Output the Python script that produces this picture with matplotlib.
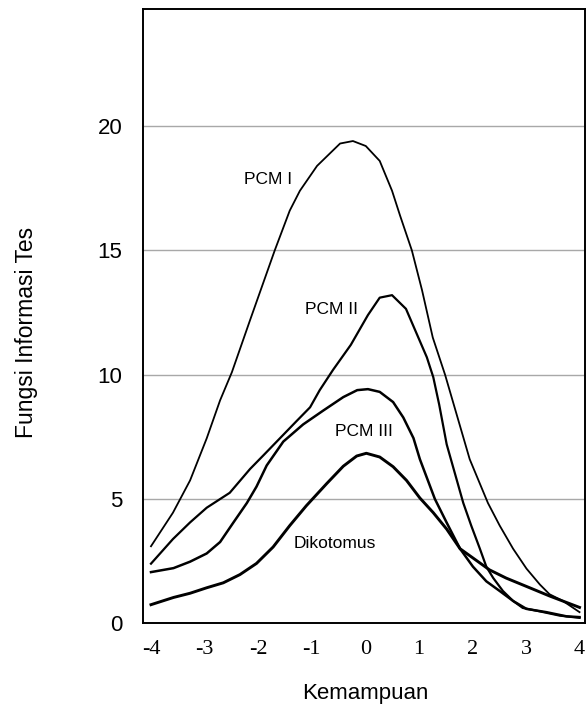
import matplotlib
matplotlib.use('Agg')
import matplotlib.pyplot as plt

# kurva fungsi informasi tes
pcm1_x = [-4.0, -3.59, -3.27, -2.96, -2.71, -2.49, -2.15, -1.69, -1.41, -1.22, -0.90, -0.47, -0.23, 0.01,
          0.27, 0.50, 0.65, 0.87, 1.06, 1.26, 1.49, 1.95, 2.29, 2.51, 2.76, 3.01, 3.26, 3.44, 3.69, 4.0]
pcm1_y = [3.1, 4.45, 5.75, 7.44, 8.97, 10.1, 12.2, 15.0, 16.6, 17.4, 18.4, 19.3, 19.4, 19.2,
          18.6, 17.4, 16.4, 15.0, 13.4, 11.5, 10.0, 6.6, 4.84, 3.93, 3.0, 2.2, 1.56, 1.17, 0.9, 0.45]

pcm2_x = [-4.0, -3.59, -3.27, -2.96, -2.53, -2.15, -1.90, -1.59, -1.28, -1.03, -0.85, -0.60, -0.27, 0.05,
          0.27, 0.50, 0.76, 0.97, 1.15, 1.27, 1.38, 1.52, 1.83, 1.98, 2.14, 2.26, 2.39, 2.57, 2.76, 2.94,
          3.26, 3.63, 4.0]
pcm2_y = [2.4, 3.39, 4.06, 4.65, 5.25, 6.21, 6.76, 7.45, 8.14, 8.69, 9.38, 10.2, 11.2, 12.4,
          13.1, 13.2, 12.65, 11.6, 10.7, 9.9, 8.8, 7.2, 4.84, 3.92, 3.0, 2.28, 1.82, 1.3, 0.9, 0.62,
          0.48, 0.31, 0.22]

pcm3_x = [-4.0, -3.58, -3.27, -2.96, -2.71, -2.46, -2.21, -2.03, -1.84, -1.53, -1.16, -0.79, -0.41, -0.15,
          0.05, 0.27, 0.52, 0.71, 0.90, 1.02, 1.30, 1.52, 1.77, 2.01, 2.26, 2.51, 2.76, 3.01, 3.38, 3.76, 4.0]
pcm3_y = [2.06, 2.22, 2.48, 2.81, 3.27, 4.06, 4.84, 5.5, 6.35, 7.31, 8.0, 8.55, 9.1, 9.38,
          9.42, 9.31, 8.9, 8.28, 7.45, 6.6, 5.0, 4.05, 3.0, 2.28, 1.69, 1.3, 0.9, 0.58, 0.45, 0.28, 0.25]

dik_x = [-4.0, -3.58, -3.27, -2.96, -2.65, -2.34, -2.03, -1.72, -1.41, -1.10, -0.72, -0.41, -0.16,
         0.02, 0.27, 0.52, 0.77, 1.02, 1.27, 1.52, 1.77, 2.32, 2.63, 3.07, 3.44, 4.0]
dik_y = [0.75, 1.04, 1.21, 1.43, 1.63, 1.96, 2.41, 3.07, 3.93, 4.73, 5.62, 6.32, 6.73,
         6.84, 6.69, 6.3, 5.75, 5.04, 4.45, 3.79, 3.0, 2.15, 1.82, 1.43, 1.1, 0.64]

xticks = [-4, -3, -2, -1, 0, 1, 2, 3, 4]
xtick_labels = ['-4', '-3', '-2', '-1', '0', '1', '2', '3', '4']
yticks = [0, 5, 10, 15, 20]

# label kurva: (teks, x, y)
curve_labels = [('PCM I', -1.82, 17.85), ('PCM II', -0.63, 12.64),
                ('PCM III', -0.03, 7.73), ('Dikotomus', -0.56, 3.23)]

plt.rcParams['font.family'] = ['Liberation Sans', 'DejaVu Sans']

figure, ax = plt.subplots(figsize=(5.86, 7.08), dpi=100)
plt.subplots_adjust(left=0.2445, right=0.999, bottom=0.1196, top=0.9869)

ax.plot(pcm1_x, pcm1_y, color='black', linewidth=1.3)
ax.plot(pcm2_x, pcm2_y, color='black', linewidth=1.6)
ax.plot(pcm3_x, pcm3_y, color='black', linewidth=1.8)
ax.plot(dik_x, dik_y, color='black', linewidth=2.1)

for txt, tx, ty in curve_labels:
    ax.text(tx, ty, txt, fontsize=12.5, ha='center', va='center')

ax.set_xlim(-4.144, 4.11)
ax.set_ylim(0, 24.7)
ax.set_xticks(xticks)
ax.set_xticklabels(xtick_labels, fontname='Liberation Serif', fontsize=16)
ax.set_yticks(yticks)
ax.set_yticklabels([str(v) for v in yticks], fontsize=16)
ax.tick_params(axis='x', length=0, pad=12)
ax.tick_params(axis='y', length=0, pad=15)

# garis bantu horizontal
for v in yticks[1:]:
    ax.axhline(v, color='#a8a8a8', linewidth=1.0, zorder=0)

for s in ax.spines.values():
    s.set_linewidth(1.4)

figure.text(0.623, 0.021, 'Kemampuan', fontsize=16, ha='center', va='center')
figure.text(0.045, 0.531, 'Fungsi Informasi Tes', fontsize=16.5, rotation=90, ha='center', va='center')

plt.savefig('out.png', dpi=100)
